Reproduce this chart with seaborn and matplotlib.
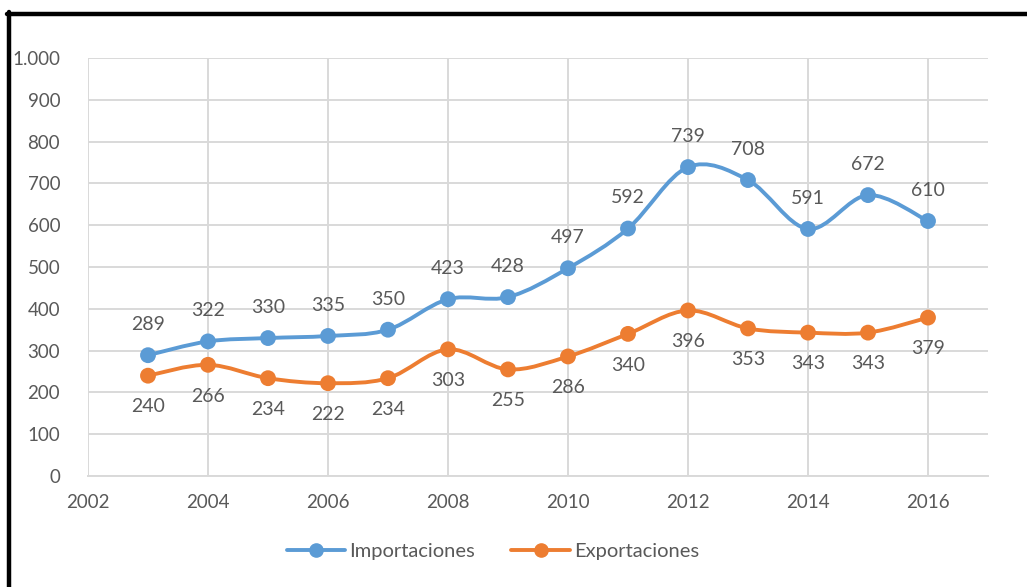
import matplotlib
matplotlib.use("Agg")
import matplotlib.pyplot as plt
import seaborn as sns
import numpy as np
import pandas as pd
from matplotlib.path import Path
from matplotlib.patches import PathPatch
from matplotlib.lines import Line2D
from matplotlib.ticker import FuncFormatter, MultipleLocator

years = [2003, 2004, 2005, 2006, 2007, 2008, 2009, 2010, 2011, 2012, 2013, 2014, 2015, 2016]
importaciones = [289, 322, 330, 335, 350, 423, 428, 497, 592, 739, 708, 591, 672, 610]
exportaciones = [240, 266, 234, 222, 234, 303, 255, 286, 340, 396, 353, 343, 343, 379]
series_names = ["Importaciones", "Exportaciones"]
colors = ["#5B9BD5", "#ED7D31"]

df = pd.DataFrame({"year": years * 2,
                   "valor": importaciones + exportaciones,
                   "serie": [series_names[0]] * len(years) + [series_names[1]] * len(years)})

sns.set_theme(style="white")
plt.rcParams["font.family"] = ["Lato", "DejaVu Sans"]

fig = plt.figure(figsize=(10.27, 5.87), dpi=100)
ax = fig.add_axes([88 / 1027, 1 - 476 / 587, 900 / 1027, 418 / 587])


def smooth_path(xs, ys):
    """Cubic Bezier path through the points (Catmull-Rom style, as spreadsheet smoothed lines)."""
    xs = np.asarray(xs, float)
    ys = np.asarray(ys, float)
    n = len(xs)
    verts = [(xs[0], ys[0])]
    codes = [Path.MOVETO]
    for i in range(n - 1):
        p0 = (xs[max(i - 1, 0)], ys[max(i - 1, 0)])
        p1 = (xs[i], ys[i])
        p2 = (xs[i + 1], ys[i + 1])
        p3 = (xs[min(i + 2, n - 1)], ys[min(i + 2, n - 1)])
        c1 = (p1[0] + (p2[0] - p0[0]) / 6, p1[1] + (p2[1] - p0[1]) / 6)
        c2 = (p2[0] - (p3[0] - p1[0]) / 6, p2[1] - (p3[1] - p1[1]) / 6)
        verts += [c1, c2, p2]
        codes += [Path.CURVE4] * 3
    return Path(verts, codes)


for name, col in zip(series_names, colors):
    sub = df[df["serie"] == name]
    patch = PathPatch(smooth_path(sub["year"], sub["valor"]), facecolor="none",
                      edgecolor=col, lw=2.8, zorder=3, capstyle="round", joinstyle="round")
    ax.add_patch(patch)

sns.scatterplot(data=df, x="year", y="valor", hue="serie", palette=colors,
                s=130, edgecolor="none", legend=False, zorder=4, ax=ax)

label_color = "#595959"
for x, v in zip(years, importaciones):
    ax.annotate(f"{v}", (x, v), xytext=(0, 22), textcoords="offset points",
                ha="center", va="center", fontsize=14, color=label_color)
for x, v in zip(years, exportaciones):
    ax.annotate(f"{v}", (x, v), xytext=(0, -22.5), textcoords="offset points",
                ha="center", va="center", fontsize=14, color=label_color)

ax.set_xlim(2002, 2017)
ax.set_ylim(0, 1000)
ax.set_xticks(range(2002, 2017, 2))
ax.yaxis.set_major_locator(MultipleLocator(100))
ax.yaxis.set_major_formatter(FuncFormatter(lambda v, p: f"{int(v):,}".replace(",", ".")))
ax.grid(True, color="#d9d9d9", lw=1.4)
ax.set_axisbelow(True)
for side in ["top", "right", "left"]:
    ax.spines[side].set_visible(False)
ax.spines["bottom"].set_color("#d9d9d9")
ax.spines["bottom"].set_linewidth(1.4)
ax.tick_params(axis="both", length=0, labelsize=13.5, colors=label_color)
ax.tick_params(axis="x", pad=13)
ax.tick_params(axis="y", pad=20)
ax.set_xlabel("")
ax.set_ylabel("")

handles = [Line2D([0], [0], color=c, lw=2.8, marker="o", markersize=9.5) for c in colors]
leg = fig.legend(handles, series_names, loc="center", bbox_to_anchor=(493 / 1027, 1 - 551 / 587),
                 ncol=2, frameon=False, fontsize=14.5, handlelength=2.9, columnspacing=1.8,
                 handletextpad=0.2)
for t in leg.get_texts():
    t.set_color(label_color)

# outer frame: top and left edges
fig.add_artist(Line2D([7 / 1027, 1], [1 - 13.5 / 587] * 2, color="black", lw=3.2,
                      transform=fig.transFigure))
fig.add_artist(Line2D([9 / 1027] * 2, [1 - 12 / 587, 0], color="black", lw=3.2,
                      transform=fig.transFigure))

fig.savefig("out.png", dpi=100)
